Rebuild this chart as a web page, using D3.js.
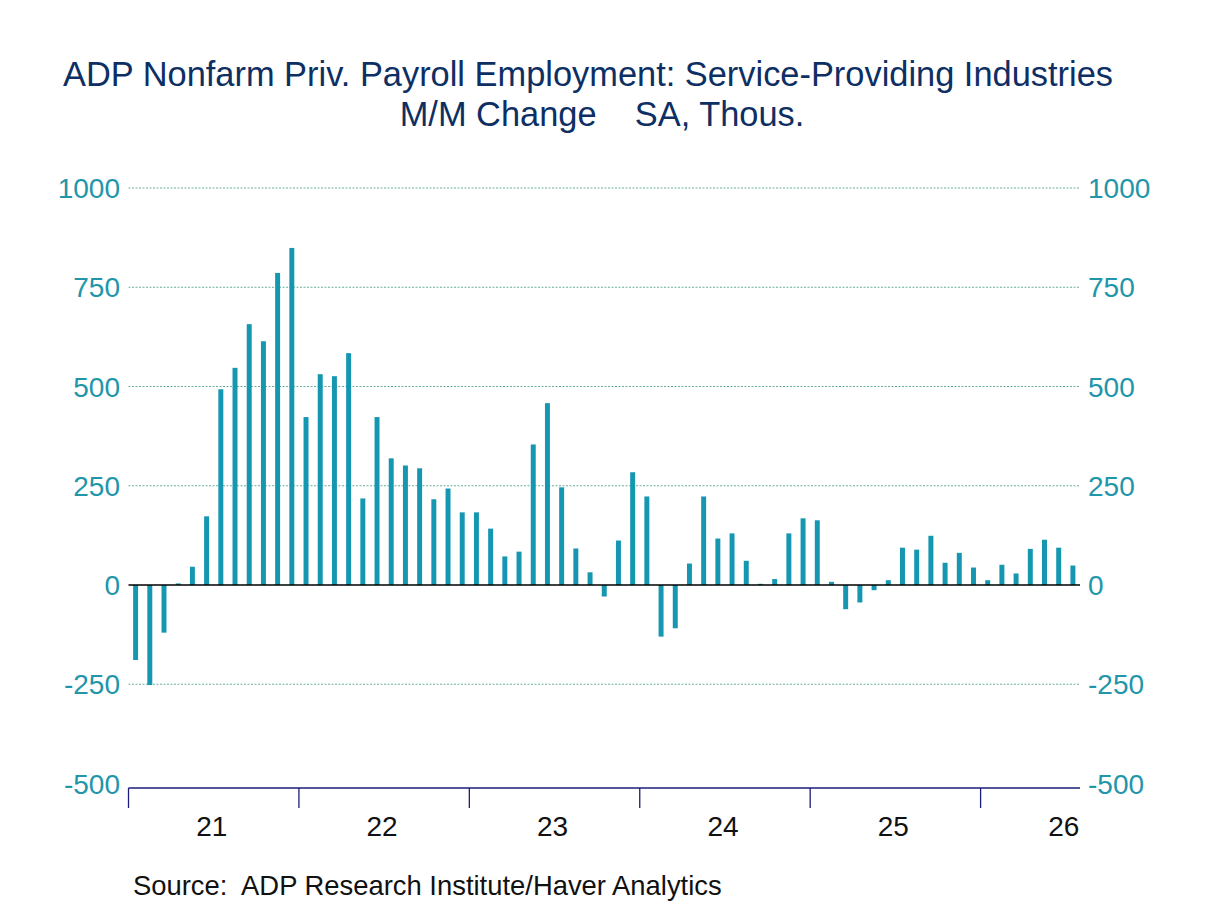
<!DOCTYPE html>
<html>
<head>
<meta charset="utf-8">
<script src="https://cdn.jsdelivr.net/npm/d3@7"></script>
<style>
  body { margin: 0; background: #fff; }
  text { font-family: "Liberation Sans", Arial, sans-serif; white-space: pre; }
</style>
</head>
<body>
<svg id="chart" width="1208" height="906"></svg>
<script>
// monthly change, thousands, Jan 2021 .. Jul 2026
var months = d3.range(67).map(function(i) { return new Date(2021, i, 1); });
var values = [-189, -252, -120, 4, 46, 173, 493, 547, 657, 614, 786, 849,
              423, 531, 526, 584, 218, 423, 319, 301, 294, 216, 243, 183,
              183, 142, 72, 84, 354, 458, 246, 92, 32, -29, 112, 284,
              223, -130, -109, 54, 223, 117, 130, 61, 3, 15, 130, 168,
              163, 8, -61, -44, -13, 12, 94, 89, 124, 56, 81, 44,
              12, 51, 29, 91, 114, 94, 49];
var yTicks = [-500, -250, 0, 250, 500, 750, 1000];
var yearLabels = ["21", "22", "23", "24", "25", "26"];

var svg = d3.select("#chart"),
    plotL = 128.5, plotR = 1080, plotT = 188, plotB = 783.5,
    teal = "#2196aa", navy = "#0e2f63";

var x = d3.scaleBand()
    .domain(months.map(function(d, i) { return i; }))
    .range([plotL, plotR])
    .paddingInner(0.65)
    .paddingOuter(0.325);

var y = d3.scaleLinear().domain([-500, 1000]).range([plotB, plotT]);

// title
svg.append("text")
    .attr("x", 588).attr("y", 86)
    .attr("text-anchor", "middle")
    .style("font-size", "34.4px")
    .style("fill", navy)
    .text("ADP Nonfarm Priv. Payroll Employment: Service-Providing Industries");

svg.append("text")
    .attr("x", 602).attr("y", 126)
    .attr("text-anchor", "middle")
    .style("font-size", "34.4px")
    .style("fill", navy)
    .text("M/M Change    SA, Thous.");

// gridlines
svg.append("g")
    .selectAll("line")
    .data(yTicks.filter(function(d) { return d !== 0 && d !== -500; }))
    .enter().append("line")
    .attr("x1", plotL).attr("x2", plotR)
    .attr("y1", function(d) { return y(d); })
    .attr("y2", function(d) { return y(d); })
    .attr("stroke", "#3f9a84")
    .attr("stroke-width", 0.8)
    .attr("stroke-dasharray", "2,1.5");

// y labels on both sides
var yl = svg.append("g").style("font-size", "28px").style("fill", teal);
yl.selectAll(".yl")
    .data(yTicks)
    .enter().append("text")
    .attr("x", 120)
    .attr("y", function(d) { return y(d) + 10; })
    .attr("text-anchor", "end")
    .text(function(d) { return d; });
yl.selectAll(".yr")
    .data(yTicks)
    .enter().append("text")
    .attr("x", 1088)
    .attr("y", function(d) { return y(d) + 10; })
    .attr("text-anchor", "start")
    .text(function(d) { return d; });

// bars
svg.append("g")
    .selectAll("rect")
    .data(values)
    .enter().append("rect")
    .attr("x", function(d, i) { return x(i); })
    .attr("width", x.bandwidth())
    .attr("y", function(d) { return y(Math.max(0, d)); })
    .attr("height", function(d) { return Math.abs(y(d) - y(0)); })
    .attr("fill", "#1597b1");

// zero line
svg.append("line")
    .attr("x1", plotL).attr("x2", plotR)
    .attr("y1", y(0)).attr("y2", y(0))
    .attr("stroke", "#000")
    .attr("stroke-width", 1.3);

// bottom axis with year ticks
var step = x.step();
var ax = svg.append("g").attr("transform", "translate(0,788)");
ax.append("line")
    .attr("x1", plotL).attr("x2", plotR)
    .attr("stroke", "#1c1c7a").attr("stroke-width", 1.3);
ax.selectAll(".tk")
    .data(yearLabels)
    .enter().append("line")
    .attr("x1", function(d, i) { return plotL + i * 12 * step; })
    .attr("x2", function(d, i) { return plotL + i * 12 * step; })
    .attr("y1", 0).attr("y2", 20)
    .attr("stroke", "#1c1c7a").attr("stroke-width", 1.3);
ax.selectAll(".yr")
    .data(yearLabels)
    .enter().append("text")
    .attr("x", function(d, i) { return plotL + (i * 12 + 6) * step - 2; })
    .attr("y", 48)
    .attr("text-anchor", "middle")
    .style("font-size", "28px")
    .style("fill", "#111")
    .text(function(d) { return d; });

// source
svg.append("text")
    .attr("x", 133).attr("y", 895)
    .style("font-size", "27.4px")
    .style("fill", "#111")
    .text("Source:  ADP Research Institute/Haver Analytics");
</script>
</body>
</html>
